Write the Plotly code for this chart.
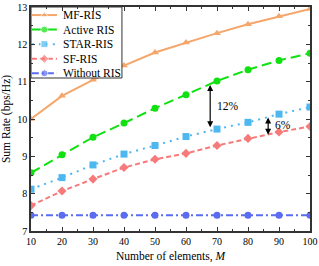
import plotly.graph_objects as go

M = [10, 20, 30, 40, 50, 60, 70, 80, 90, 100]
mf_ris = [10.0, 10.62, 11.05, 11.43, 11.78, 12.05, 12.3, 12.54, 12.75, 12.95]
active_ris = [8.56, 9.04, 9.51, 9.89, 10.29, 10.65, 11.02, 11.32, 11.57, 11.76]
star_ris = [8.12, 8.43, 8.77, 9.06, 9.29, 9.53, 9.73, 9.91, 10.13, 10.32]
sf_ris = [7.68, 8.07, 8.39, 8.70, 8.92, 9.08, 9.29, 9.48, 9.65, 9.80]
without_ris = [7.42] * 10

series = [
    ("MF-RIS", mf_ris, "#F5A66A", "solid", "triangle-up"),
    ("Active RIS", active_ris, "#11E011", "10px,5px", "circle"),
    ("STAR-RIS", star_ris, "#4DB8F0", "2px,5px", "square"),
    ("SF-RIS", sf_ris, "#F77A7A", "5px,3px", "diamond"),
    ("Without RIS", without_ris, "#5A6CF0", "7px,3px,2px,3px", "circle"),
]

font = dict(family="Liberation Serif, Times New Roman, serif", color="black")

fig = go.Figure()
for name, ys, col, dash, sym in series:
    fig.add_trace(go.Scatter(
        x=M, y=ys, name=name, mode="lines+markers",
        line=dict(color=col, width=2, dash=dash),
        marker=dict(color=col, symbol=sym, size=7),
        showlegend=False,
    ))

# manual compact legend on an overlay subplot (0..1 units), drawn above the data
lx0, lx1, ly0, ly1 = 0.0, 0.326, 0.683, 1.0
fig.add_trace(go.Scatter(
    x=[lx0, lx1, lx1, lx0, lx0], y=[ly0, ly0, ly1, ly1, ly0],
    xaxis="x2", yaxis="y2", mode="lines", fill="toself",
    fillcolor="white", line=dict(color="#333333", width=1),
    showlegend=False, hoverinfo="skip",
))
top, step = 0.964, 0.065
for i, (name, ys, col, dash, sym) in enumerate(series):
    yy = top - i * step
    fig.add_trace(go.Scatter(
        x=[0.003, 0.048, 0.093], y=[yy] * 3, xaxis="x2", yaxis="y2",
        mode="lines+markers", line=dict(color=col, width=2, dash=dash),
        marker=dict(color=col, symbol=sym, size=[0, 7, 0]),
        showlegend=False, hoverinfo="skip",
    ))
    fig.add_annotation(x=0.108, y=yy, xref="x2", yref="y2", text=name,
                       showarrow=False, xanchor="left", yanchor="middle",
                       font=dict(size=11.5, **font))

axis_common = dict(
    showline=True, linecolor="#333333", linewidth=1.5, mirror="ticks",
    ticks="inside", ticklen=4, tickwidth=1, tickcolor="#333333",
    showgrid=False, zeroline=False, tickfont=dict(size=10, **font),
    automargin=False,
)
fig.update_layout(
    width=319, height=266,
    margin=dict(l=31, r=9, t=7, b=35),
    plot_bgcolor="white", paper_bgcolor="white",
    font=dict(size=11, **font),
    showlegend=False,
    xaxis=dict(range=[10, 100], tickvals=M,
               minor=dict(ticks="inside", ticklen=2, dtick=5, tickcolor="#333333"),
               title=dict(text="Number of elements, <i>M</i>", standoff=6,
                          font=dict(size=11.5, **font)),
               **axis_common),
    yaxis=dict(range=[7, 13], dtick=1,
               minor=dict(ticks="inside", ticklen=2, dtick=0.5, tickcolor="#333333"),
               title=dict(text="Sum Rate (bps/Hz)", standoff=4,
                          font=dict(size=11.5, **font)),
               **axis_common),
    xaxis2=dict(range=[0, 1], overlaying="x", visible=False, fixedrange=True),
    yaxis2=dict(range=[0, 1], overlaying="y", visible=False, fixedrange=True),
)

fig.add_annotation(x=67.8, y=9.78, ax=67.8, ay=10.95, xref="x", yref="y",
                   axref="x", ayref="y", text="", showarrow=True,
                   arrowhead=2, arrowside="end+start", arrowsize=1, arrowwidth=1.2,
                   arrowcolor="black")
fig.add_annotation(x=73.5, y=10.35, text="12%", showarrow=False,
                   font=dict(size=11.5, **font))
fig.add_annotation(x=86.5, y=9.58, ax=86.5, ay=10.08, xref="x", yref="y",
                   axref="x", ayref="y", text="", showarrow=True,
                   arrowhead=2, arrowside="end+start", arrowsize=1, arrowwidth=1.2,
                   arrowcolor="black")
fig.add_annotation(x=91.2, y=9.85, text="6%", showarrow=False,
                   font=dict(size=11.5, **font))

fig.write_html("out.html", config={"displayModeBar": False},
               post_script="document.body.style.margin='0px';document.body.style.overflow='hidden';")
